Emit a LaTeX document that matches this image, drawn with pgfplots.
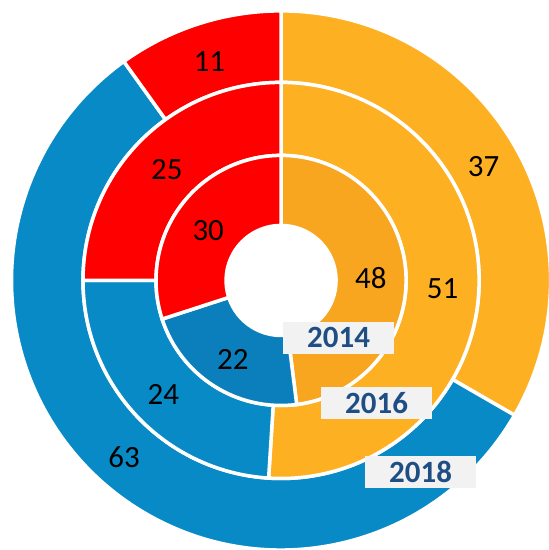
\documentclass[border=0pt]{standalone}
\usepackage{pgfplots}
\usepackage{pgfplotstable}
\pgfplotsset{compat=1.18}
\usepackage{fontspec}
\setmainfont{Carlito}
\definecolor{oA}{HTML}{F8A51F}
\definecolor{oB}{HTML}{FEB023}
\definecolor{bA}{HTML}{0A7FBB}
\definecolor{bB}{HTML}{078AC5}
\definecolor{rA}{HTML}{FF0000}
\definecolor{yearblue}{HTML}{1F4E85}
\definecolor{boxgray}{HTML}{F2F2F2}

% ring data: value and colour, clockwise from 12 o'clock
\pgfplotstableread{
v c
48 oA
22 bA
30 rA
}\tA
\pgfplotstableread{
v c
51 oB
24 bB
25 rA
}\tB
\pgfplotstableread{
v c
37 oB
63 bB
11 rA
}\tC

% #1 table, #2 inner radius, #3 outer radius (pixel units)
\newcommand\ring[3]{%
  \pgfplotstablegetrowsof{#1}\pgfmathtruncatemacro\nr{\pgfplotsretval-1}%
  \xdef\tot{0}%
  \foreach \i in {0,...,\nr}{%
    \pgfplotstablegetelem{\i}{v}\of{#1}%
    \pgfmathsetmacro\tmp{\tot+\pgfplotsretval}\xdef\tot{\tmp}}%
  \xdef\cum{0}%
  \foreach \i in {0,...,\nr}{%
    \pgfplotstablegetelem{\i}{v}\of{#1}\let\val\pgfplotsretval
    \pgfplotstablegetelem{\i}{c}\of{#1}\let\col\pgfplotsretval
    \pgfmathsetmacro\aone{90-360*(\cum/\tot)}%
    \pgfmathsetmacro\atwo{90-360*((\cum+\val)/\tot)}%
    \pgfmathsetmacro\amid{(\aone+\atwo)/2}%
    \pgfmathsetmacro\xa{#3*cos(\aone)}%
    \pgfmathsetmacro\ya{#3*sin(\aone)}%
    \pgfmathsetmacro\xb{#2*cos(\atwo)}%
    \pgfmathsetmacro\yb{#2*sin(\atwo)}%
    \pgfmathsetmacro\xm{(#2+#3)/2*cos(\amid)}%
    \pgfmathsetmacro\ym{(#2+#3)/2*sin(\amid)}%
    \pgfmathsetmacro\Rtwo{#3*0.02}%
    \pgfmathsetmacro\Rone{#2*0.02}%
    \edef\temp{\noexpand\fill[\col, draw=white, line width=0.07cm]
      (axis cs:\xa,\ya) arc[start angle=\aone, end angle=\atwo, radius=\Rtwo cm]
      -- (axis cs:\xb,\yb) arc[start angle=\atwo, end angle=\aone, radius=\Rone cm]
      -- cycle;
      \noexpand\node[text=black, yshift=-0.07cm, font=\noexpand\fontsize{17.6}{20}\noexpand\selectfont]
      at (axis cs:\xm,\ym) {\val};}%
    \temp
    \pgfmathsetmacro\tmp{\cum+\val}\xdef\cum{\tmp}%
  }%
}

\begin{document}
\begin{tikzpicture}
\useasboundingbox (0,0) rectangle (10.98cm,11cm);
\clip (0,0) rectangle (10.98cm,11cm);
\begin{axis}[
  x=0.02cm, y=0.02cm,
  xmin=-281, xmax=268, ymin=-269.5, ymax=280.5,
  hide axis, clip=false,
  at={(0,0)}, anchor=south west,
]
\addplot[draw=none] coordinates {(0,0)};
\ring{\tC}{198}{269.5}
\ring{\tB}{125}{198}
\ring{\tA}{55}{125}
\fill[white] (axis cs:0,0) circle[radius=1.1cm];
\tikzset{yr/.style={fill=boxgray, text=yearblue, font=\fontsize{17.6}{20}\selectfont\bfseries,
  minimum width=2.22cm, minimum height=0.64cm, inner sep=0pt}}
\node[yr] at (axis cs:57.5,-57.5) {2014};
\node[yr] at (axis cs:95.5,-122.5) {2016};
\node[yr] at (axis cs:139.5,-191.5) {2018};
\end{axis}
\end{tikzpicture}
\end{document}
